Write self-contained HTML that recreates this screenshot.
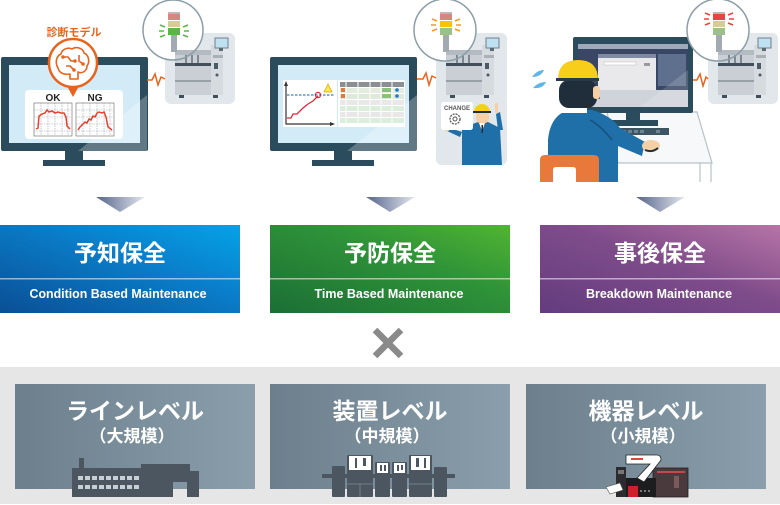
<!DOCTYPE html>
<html><head><meta charset="utf-8">
<style>
html,body{margin:0;padding:0;background:#fff;}
svg{display:block;}
text{font-family:"Liberation Sans","Noto Sans CJK JP",sans-serif;}
</style></head>
<body>
<svg width="780" height="505" viewBox="0 0 780 505" xmlns="http://www.w3.org/2000/svg">
<defs>
  <linearGradient id="tri" x1="0" x2="1" y1="0" y2="0">
    <stop offset="0" stop-color="#55648a"/><stop offset="1" stop-color="#e2e6ee"/>
  </linearGradient>
  <linearGradient id="gBlue" x1="0" y1="1" x2="1" y2="0">
    <stop offset="0" stop-color="#0a4f95"/><stop offset="0.6" stop-color="#0a7fcb"/><stop offset="1" stop-color="#04a3e6"/>
  </linearGradient>
  <linearGradient id="gGreen" x1="0" y1="1" x2="1" y2="0">
    <stop offset="0" stop-color="#1b6f35"/><stop offset="0.6" stop-color="#2f9338"/><stop offset="1" stop-color="#50b532"/>
  </linearGradient>
  <linearGradient id="gPurple" x1="0" y1="1" x2="1" y2="0">
    <stop offset="0" stop-color="#633c7f"/><stop offset="0.55" stop-color="#7f4c8a"/><stop offset="1" stop-color="#b774a6"/>
  </linearGradient>
  <linearGradient id="gGray" x1="0" x2="1" y1="0" y2="0">
    <stop offset="0" stop-color="#6d7f8c"/><stop offset="1" stop-color="#8a9eab"/>
  </linearGradient>
  <clipPath id="c1"><circle cx="173" cy="30" r="30"/></clipPath>
  <clipPath id="c2"><circle cx="445" cy="30" r="31"/></clipPath>
  <clipPath id="c3"><circle cx="718" cy="30" r="31"/></clipPath>
  <g id="mach">
    <rect x="0" y="0" width="70" height="71" rx="6" fill="#e2e7eb"/>
    <rect x="10" y="20" width="44" height="42" fill="#c9cfd4"/>
    <rect x="10" y="17" width="38" height="5" fill="#b3bac0"/>
    <rect x="20" y="22" width="2" height="10" fill="#7d8891"/>
    <rect x="26" y="22" width="2" height="10" fill="#7d8891"/>
    <rect x="32" y="22" width="2" height="10" fill="#7d8891"/>
    <rect x="10" y="30" width="36" height="3" fill="#3f505c"/>
    <rect x="10" y="47" width="44" height="2" fill="#98a1a8"/>
    <rect x="46" y="12" width="12" height="50" fill="#d6dbdf"/>
    <rect x="50" y="5" width="13" height="10" fill="#bfe0f0" stroke="#6f808a" stroke-width="1"/>
    <rect x="54" y="15" width="4" height="3" fill="#5a6a75"/>
    <rect x="48" y="22" width="10" height="3" fill="#a9b1b7"/>
    <rect x="49" y="30" width="4" height="6" fill="#4a5a66"/>
    <circle cx="52" cy="42" r="1.5" fill="#4a5a66"/>
    <rect x="14" y="62" width="5" height="3" fill="#3f505c"/>
    <rect x="48" y="62" width="5" height="3" fill="#3f505c"/>
  </g>
  <g id="machtop">
    <rect x="10" y="17" width="38" height="5" fill="#b3bac0"/>
    <rect x="10" y="22" width="44" height="10" fill="#c9cfd4"/>
    <rect x="20" y="22" width="2" height="10" fill="#7d8891"/>
    <rect x="26" y="22" width="2" height="10" fill="#7d8891"/>
  </g>
  <g id="monitor">
    <rect x="0" y="0" width="147" height="94" rx="2" fill="#2b4c5c"/>
    <rect x="8" y="8" width="131" height="78" fill="#d3ebf7"/>
    <rect x="64" y="94" width="18" height="10" fill="#2b4c5c"/>
    <rect x="42" y="103" width="62" height="6" fill="#2b4c5c"/>
  </g>
</defs>

<!-- ============ PANEL 1 ============ -->
<use href="#mach" x="165" y="33"/>
<use href="#monitor" x="1" y="57"/>
<polygon points="78,151 147,151 147,95" fill="#ffffff" opacity="0.25"/>
<rect x="25" y="90" width="98" height="49" rx="4" fill="#ffffff"/>
<text x="53" y="101" font-size="10" font-weight="bold" fill="#222" text-anchor="middle">OK</text>
<text x="95" y="101" font-size="10" font-weight="bold" fill="#222" text-anchor="middle">NG</text>
<g stroke="#9aa3aa" stroke-width="0.6" fill="none" stroke-dasharray="1.5 1">
  <rect x="34" y="103" width="38" height="33" stroke-dasharray="none" stroke="#666"/>
  <rect x="76" y="103" width="38" height="33" stroke-dasharray="none" stroke="#666"/>
  <line x1="34" y1="110" x2="72" y2="110"/><line x1="34" y1="117" x2="72" y2="117"/><line x1="34" y1="124" x2="72" y2="124"/><line x1="34" y1="131" x2="72" y2="131"/>
  <line x1="41" y1="103" x2="41" y2="136"/><line x1="48" y1="103" x2="48" y2="136"/><line x1="55" y1="103" x2="55" y2="136"/><line x1="62" y1="103" x2="62" y2="136"/><line x1="68" y1="103" x2="68" y2="136"/>
  <line x1="76" y1="110" x2="114" y2="110"/><line x1="76" y1="117" x2="114" y2="117"/><line x1="76" y1="124" x2="114" y2="124"/><line x1="76" y1="131" x2="114" y2="131"/>
  <line x1="83" y1="103" x2="83" y2="136"/><line x1="90" y1="103" x2="90" y2="136"/><line x1="97" y1="103" x2="97" y2="136"/><line x1="104" y1="103" x2="104" y2="136"/><line x1="110" y1="103" x2="110" y2="136"/>
</g>
<polyline points="36,129 38,128 39,116 42,114 45,113 47,110 49,112 52,111 55,113 58,112 61,113 64,113 66,117 67,126 70,129" fill="none" stroke="#e8402a" stroke-width="1.5"/>
<polyline points="78,130 80,127 83,124 85,122 87,123 89,119 91,120 93,116 95,117 97,113 99,112 102,113 104,112 106,117 108,127 112,130" fill="none" stroke="#e8402a" stroke-width="1.5"/>
<path d="M67,86 L73,97 L79,86 Z" fill="#e8641e"/>
<circle cx="73" cy="63" r="24" fill="#ffffff" stroke="#e8641e" stroke-width="2.5"/>
<g fill="none" stroke="#e8641e" stroke-width="1.6" stroke-linejoin="round">
  <path d="M58,68 C55,63 56,56 61,54 C62,49 68,47 72,49 C76,46 83,48 84,53 C89,55 90,62 87,66 C87,71 82,74 78,72 L78,79 L70,79 L70,74 C64,75 59,73 58,68 Z"/>
  <polyline points="63,57 68,57 71,61 75,61"/>
  <polyline points="66,66 70,66 74,70"/>
  <polyline points="79,55 79,61 83,64"/>
</g>
<g fill="#e8641e"><circle cx="75" cy="61" r="1.8"/><circle cx="74" cy="70" r="1.8"/><circle cx="83" cy="64" r="1.8"/><circle cx="63" cy="57" r="1.8"/></g>
<text x="74" y="36" font-size="11" font-weight="bold" fill="#e8641e" text-anchor="middle">診断モデル</text>
<polyline points="147,80 152,80 155,74 158,85 161,77 165,79" fill="none" stroke="#e8641e" stroke-width="1.5"/>
<circle cx="173" cy="30" r="30" fill="#ffffff"/>
<g clip-path="url(#c1)"><use href="#machtop" x="165" y="33"/></g>
<circle cx="173" cy="30" r="30" fill="none" stroke="#8b9ea8" stroke-width="1.5"/>
<rect x="171" y="35" width="6" height="17" fill="#a2abb1"/>
<rect x="168" y="12" width="12" height="2" fill="#b8b8b8"/>
<rect x="168" y="14" width="12" height="6" fill="#d4887a"/>
<rect x="168" y="21" width="12" height="6" fill="#d4cd98"/>
<rect x="168" y="28" width="12" height="7" fill="#58b548"/>
<g stroke="#58b548" stroke-width="1.5"><line x1="160" y1="25" x2="165" y2="27"/><line x1="159" y1="31" x2="164" y2="31"/><line x1="160" y1="37" x2="165" y2="35"/><line x1="183" y1="27" x2="188" y2="25"/><line x1="184" y1="31" x2="189" y2="31"/><line x1="183" y1="35" x2="188" y2="37"/></g>
<polygon points="96,197 145,197 120,212" fill="url(#tri)"/>

<!-- ============ PANEL 2 ============ -->
<rect x="436" y="33" width="71" height="132" rx="6" fill="#e2e7eb"/>
<use href="#mach" x="436" y="33"/>
<use href="#monitor" x="270" y="57"/>
<polygon points="347,151 417,151 417,95" fill="#ffffff" opacity="0.25"/>
<rect x="283" y="80" width="54" height="47" fill="#ffffff"/>
<rect x="338" y="80" width="67" height="47" fill="#ffffff"/>
<g stroke="#333" stroke-width="1.2" fill="none"><polyline points="286,83 286,124 333,124"/></g>
<path d="M284,86 L286,81 L288,86 Z M330,122 L335,124 L330,126 Z" fill="#333"/>
<line x1="287" y1="95" x2="335" y2="95" stroke="#3a7cc8" stroke-width="1.3" stroke-dasharray="2.5 1.5"/>
<polyline points="287,118 291,118 293,114 297,114 303,108 308,104 313,101 318,96" fill="none" stroke="#e0263a" stroke-width="1.3"/>
<circle cx="318" cy="95" r="2.6" fill="none" stroke="#e0263a" stroke-width="1.2"/>
<path d="M324,92 L328,84 L332,92 Z" fill="#ffe94d" stroke="#e0a800" stroke-width="0.8"/>
<g>
  <rect x="340" y="82" width="64" height="5" fill="#8a8f93"/>
  <rect x="340" y="88" width="64" height="5" fill="#e4ecdf"/>
  <rect x="340" y="94" width="64" height="5" fill="#dfe9d9"/>
  <rect x="340" y="100" width="64" height="5" fill="#e8e8e8"/>
  <rect x="340" y="106" width="64" height="5" fill="#dbeedb"/>
  <rect x="340" y="112" width="64" height="5" fill="#e8e8e8"/>
  <rect x="340" y="118" width="64" height="5" fill="#dbeedb"/>
  <g stroke="#ffffff" stroke-width="1"><line x1="346" y1="82" x2="346" y2="124"/><line x1="358" y1="82" x2="358" y2="124"/><line x1="370" y1="82" x2="370" y2="124"/><line x1="381" y1="82" x2="381" y2="124"/><line x1="392" y1="82" x2="392" y2="124"/></g>
  <rect x="341" y="88" width="4" height="4" fill="#e07a3a"/><rect x="341" y="94" width="4" height="4" fill="#e07a3a"/>
  <rect x="382" y="88" width="9" height="4" fill="#8cc07a"/><rect x="382" y="94" width="9" height="4" fill="#8cc07a"/>
  <circle cx="397" cy="90" r="1.8" fill="#1e7ac8"/><circle cx="397" cy="96" r="1.8" fill="#1e7ac8"/>
</g>
<polyline points="417,79 423,79 426,73 429,85 432,76 436,78" fill="none" stroke="#e8641e" stroke-width="1.5"/>
<path d="M462,165 L462,128 L478,122 L488,122 L500,128 L502,165 Z" fill="#1f6fa9"/>
<path d="M462,132 L450,128 L447,131 L460,137 Z" fill="#1f6fa9"/>
<path d="M498,130 L496,114 L500,112 L503,130 Z" fill="#1f6fa9"/>
<rect x="476" y="110" width="13" height="13" rx="4" fill="#f5cfa5"/>
<path d="M474,112 A8,8 0 0 1 490,112 Z" fill="#f7cf1a"/>
<rect x="473" y="111" width="18" height="2" fill="#1f2e3a"/>
<path d="M479,123 L482,131 L485,123 Z" fill="#ffffff"/>
<rect x="481.5" y="125" width="1.5" height="8" fill="#1f2e3a"/>
<circle cx="447" cy="129" r="2.5" fill="#f5cfa5"/>
<rect x="495" y="103" width="3" height="10" rx="1.5" fill="#f5cfa5"/>
<path d="M444,102 H470 Q473,102 473,105 V127 Q473,130 470,130 H444 Q441,130 441,127 V105 Q441,102 444,102 Z" fill="#ffffff"/>
<text x="457" y="110" font-size="6" font-weight="bold" fill="#555" text-anchor="middle">CHANGE</text>
<circle cx="455" cy="119" r="5" fill="none" stroke="#555" stroke-width="1.3" stroke-dasharray="2 1"/>
<circle cx="455" cy="119" r="2" fill="none" stroke="#555" stroke-width="1"/>
<circle cx="445" cy="30" r="31" fill="#ffffff"/>
<g clip-path="url(#c2)"><use href="#machtop" x="436" y="33"/></g>
<circle cx="445" cy="30" r="31" fill="none" stroke="#8b9ea8" stroke-width="1.5"/>
<rect x="443" y="35" width="6" height="17" fill="#a2abb1"/>
<rect x="440" y="12" width="12" height="2" fill="#b8b8b8"/>
<rect x="440" y="14" width="12" height="6" fill="#d4887a"/>
<rect x="440" y="21" width="12" height="6" fill="#f6c400"/>
<rect x="440" y="28" width="12" height="7" fill="#9cbf8d"/>
<g stroke="#f39a1e" stroke-width="1.5"><line x1="432" y1="19" x2="437" y2="21"/><line x1="431" y1="25" x2="436" y2="25"/><line x1="432" y1="31" x2="437" y2="29"/><line x1="455" y1="21" x2="460" y2="19"/><line x1="456" y1="25" x2="461" y2="25"/><line x1="455" y1="29" x2="460" y2="31"/></g>
<polygon points="366,197 415,197 390,212" fill="url(#tri)"/>

<!-- ============ PANEL 3 ============ -->
<use href="#mach" x="708" y="33"/>
<polygon points="607,112 697,112 712,163 618,163" fill="#f7f8f9" stroke="#b8c0c6" stroke-width="1.2"/>
<line x1="700" y1="163" x2="700" y2="182" stroke="#b8c0c6" stroke-width="1.2"/>
<line x1="711" y1="163" x2="711" y2="182" stroke="#b8c0c6" stroke-width="1.2"/>
<rect x="573" y="37" width="120" height="76" rx="2" fill="#2b4c5c"/>
<rect x="578" y="44" width="110" height="63" fill="#3a4764"/>
<rect x="578" y="44" width="110" height="5" fill="#9ea9bb"/>
<rect x="598" y="54" width="58" height="36" fill="#e9e9eb"/>
<rect x="598" y="54" width="58" height="4" fill="#7f8aa0"/>
<rect x="604" y="62" width="32" height="3" fill="#ffffff" stroke="#bbb" stroke-width="0.5"/>
<rect x="644" y="63" width="6" height="3" fill="#999"/>
<rect x="658" y="54" width="28" height="32" fill="#5f6f8e"/>
<rect x="578" y="90" width="110" height="17" fill="#cfd3da"/>
<rect x="580" y="96" width="20" height="3" fill="#555"/>
<polygon points="640,107 688,107 688,70" fill="#ffffff" opacity="0.15"/>
<rect x="626" y="113" width="14" height="9" fill="#2b4c5c"/>
<rect x="608" y="120" width="50" height="6" fill="#2b4c5c"/>
<rect x="608" y="128" width="61" height="7" fill="#3d5563"/>
<g fill="#6d8391"><rect x="610" y="130" width="4" height="3"/><rect x="616" y="130" width="4" height="3"/><rect x="622" y="130" width="4" height="3"/><rect x="628" y="130" width="4" height="3"/><rect x="634" y="130" width="4" height="3"/><rect x="640" y="130" width="4" height="3"/><rect x="656" y="130" width="4" height="3"/></g>
<path d="M548,182 L548,140 Q550,116 568,110 L592,110 Q610,115 620,128 L645,142 L642,156 L618,146 L618,182 Z" fill="#1f6fa9"/>
<path d="M590,120 Q600,125 612,140" fill="none" stroke="#174f7a" stroke-width="1.5"/>
<ellipse cx="651" cy="146" rx="9" ry="6" fill="#f5cfa5"/>
<path d="M645,150 Q652,153 658,148" fill="none" stroke="#1f2e3a" stroke-width="2"/>
<rect x="561" y="104" width="26" height="9" fill="#ffffff"/>
<rect x="559" y="80" width="38" height="28" rx="10" fill="#1f2e3a"/>
<rect x="593" y="86" width="7" height="13" rx="3" fill="#f5cfa5"/>
<path d="M558,80 Q558,60 578,60 Q598,60 598,80 Z" fill="#f7cf1a"/>
<rect x="556" y="78" width="43" height="3" fill="#2a3a44"/>
<path d="M540,182 L540,160 Q540,155 545,155 L594,155 Q599,155 599,160 L599,182 Z" fill="#e8793a"/>
<path d="M553,182 L553,170 Q553,167 556,167 L573,167 Q576,167 576,170 L576,182 Z" fill="#ffffff"/>
<path d="M532,77 Q537,70 544,70 Q541,77 532,77 Z" fill="#5fb6e6"/>
<path d="M533,88 Q538,82 546,82 Q543,89 533,88 Z" fill="#5fb6e6"/>
<polyline points="693,80 697,80 700,74 703,86 706,77 708,79" fill="none" stroke="#e8641e" stroke-width="1.5"/>
<circle cx="718" cy="30" r="31" fill="#ffffff"/>
<g clip-path="url(#c3)"><use href="#machtop" x="708" y="33"/></g>
<circle cx="718" cy="30" r="31" fill="none" stroke="#8b9ea8" stroke-width="1.5"/>
<rect x="716" y="35" width="6" height="17" fill="#a2abb1"/>
<rect x="713" y="12" width="12" height="2" fill="#b8b8b8"/>
<rect x="713" y="14" width="12" height="6" fill="#e8443e"/>
<rect x="713" y="21" width="12" height="6" fill="#d4cd98"/>
<rect x="713" y="28" width="12" height="7" fill="#9cbf8d"/>
<g stroke="#e8443e" stroke-width="1.5"><line x1="705" y1="13" x2="710" y2="15"/><line x1="704" y1="19" x2="709" y2="19"/><line x1="705" y1="25" x2="710" y2="23"/><line x1="728" y1="15" x2="733" y2="13"/><line x1="729" y1="19" x2="734" y2="19"/><line x1="728" y1="23" x2="733" y2="25"/></g>
<polygon points="636,197 685,197 660,212" fill="url(#tri)"/>

<!-- ============ COLORED BOXES ============ -->
<rect x="0" y="225" width="240" height="88" fill="url(#gBlue)"/>
<rect x="270" y="225" width="240" height="88" fill="url(#gGreen)"/>
<rect x="540" y="225" width="240" height="88" fill="url(#gPurple)"/>
<g fill="#ffffff" fill-opacity="0.55">
  <rect x="0" y="278" width="240" height="1.5"/>
  <rect x="270" y="278" width="240" height="1.5"/>
  <rect x="540" y="278" width="240" height="1.5"/>
</g>
<g fill="#ffffff" font-weight="bold" text-anchor="middle">
  <text x="120" y="261" font-size="23">予知保全</text>
  <text x="390" y="261" font-size="23">予防保全</text>
  <text x="660" y="261" font-size="23">事後保全</text>
  <text x="118" y="298" font-size="13" textLength="177" lengthAdjust="spacingAndGlyphs">Condition Based Maintenance</text>
  <text x="389" y="298" font-size="13" textLength="149" lengthAdjust="spacingAndGlyphs">Time Based Maintenance</text>
  <text x="659" y="298" font-size="13" textLength="146" lengthAdjust="spacingAndGlyphs">Breakdown Maintenance</text>
</g>

<g stroke="#8a8a8a" stroke-width="6.5"><line x1="375" y1="330" x2="401" y2="356"/><line x1="401" y1="330" x2="375" y2="356"/></g>

<!-- ============ GRAY BAND ============ -->
<rect x="0" y="367" width="780" height="137" fill="#e6e6e6"/>
<rect x="15" y="384" width="240" height="105" fill="url(#gGray)"/>
<rect x="270" y="384" width="240" height="105" fill="url(#gGray)"/>
<rect x="526" y="384" width="240" height="105" fill="url(#gGray)"/>
<g fill="#ffffff" font-weight="bold" text-anchor="middle">
  <text x="135" y="419" font-size="23">ラインレベル</text>
  <text x="390" y="419" font-size="23">装置レベル</text>
  <text x="646" y="419" font-size="23">機器レベル</text>
  <text x="132" y="442" font-size="17">（大規模）</text>
  <text x="387" y="442" font-size="17">（中規模）</text>
  <text x="643" y="442" font-size="17">（小規模）</text>
</g>
<path d="M72,497 V468 H79 V458 H84 V468 H141 V464 H190 V471 H199 V497 H187 V482 H173 V497 Z" fill="#4b5661"/>
<g fill="#c9ced3">
  <rect x="78" y="476" width="5" height="4"/><rect x="85" y="476" width="5" height="4"/><rect x="92" y="476" width="5" height="4"/><rect x="99" y="476" width="5" height="4"/><rect x="106" y="476" width="5" height="4"/><rect x="113" y="476" width="5" height="4"/><rect x="120" y="476" width="5" height="4"/><rect x="127" y="476" width="5" height="4"/><rect x="134" y="476" width="5" height="4"/>
  <rect x="78" y="485" width="5" height="4"/><rect x="85" y="485" width="5" height="4"/><rect x="92" y="485" width="5" height="4"/><rect x="99" y="485" width="5" height="4"/><rect x="106" y="485" width="5" height="4"/><rect x="113" y="485" width="5" height="4"/><rect x="120" y="485" width="5" height="4"/><rect x="127" y="485" width="5" height="4"/><rect x="134" y="485" width="5" height="4"/>
</g>
<g fill="#4b5661">
  <rect x="322" y="474" width="133" height="4"/>
  <rect x="332" y="466" width="13" height="31" rx="1"/>
  <rect x="347" y="455" width="26" height="42" rx="1"/>
  <rect x="375" y="462" width="15" height="35" rx="1"/>
  <rect x="392" y="462" width="15" height="35" rx="1"/>
  <rect x="409" y="455" width="23" height="42" rx="1"/>
  <rect x="434" y="467" width="13" height="30" rx="1"/>
</g>
<g fill="#ffffff">
  <rect x="349" y="456" width="22" height="14"/>
  <rect x="377" y="463" width="11" height="10"/>
  <rect x="394" y="463" width="11" height="10"/>
  <rect x="411" y="456" width="19" height="14"/>
</g>
<g fill="#4b5661">
  <rect x="355" y="458" width="2" height="10"/><rect x="363" y="458" width="3" height="8"/>
  <rect x="380" y="465" width="2" height="6"/><rect x="384" y="465" width="2" height="6"/>
  <rect x="397" y="465" width="2" height="6"/><rect x="401" y="465" width="2" height="5"/>
  <rect x="416" y="458" width="3" height="9"/><rect x="424" y="458" width="2" height="10"/>
</g>
<g stroke="#6f808c" stroke-width="1"><line x1="347" y1="484" x2="373" y2="484"/><line x1="409" y1="484" x2="432" y2="484"/><line x1="360" y1="484" x2="360" y2="497"/></g>
<rect x="653" y="468" width="35" height="29" fill="#4a3a3e" stroke="#222" stroke-width="0.8"/>
<rect x="657" y="471" width="28" height="2" fill="#c44a4a"/>
<rect x="674" y="476" width="5" height="12" fill="#7a5a5a"/>
<rect x="616" y="467" width="10" height="30" fill="#2c2c30"/>
<rect x="618" y="470" width="6" height="4" fill="#777"/>
<rect x="626" y="478" width="30" height="19" fill="#1d1d20"/>
<rect x="628" y="486" width="10" height="11" fill="#d01f2a"/>
<g fill="#777"><rect x="640" y="490" width="2" height="2"/><rect x="644" y="490" width="2" height="2"/><rect x="648" y="490" width="2" height="2"/></g>
<path d="M626,455 H657 Q661,455 661,460 L644,482 L637,478 L650,464 H626 Z" fill="#ffffff" stroke="#222" stroke-width="0.8"/>
<rect x="631" y="458" width="12" height="2" fill="#e0433a"/>
<path d="M606,487 L620,483 L623,490 L610,494 Z" fill="#ffffff" stroke="#555" stroke-width="0.6"/>
</svg>
</body></html>
